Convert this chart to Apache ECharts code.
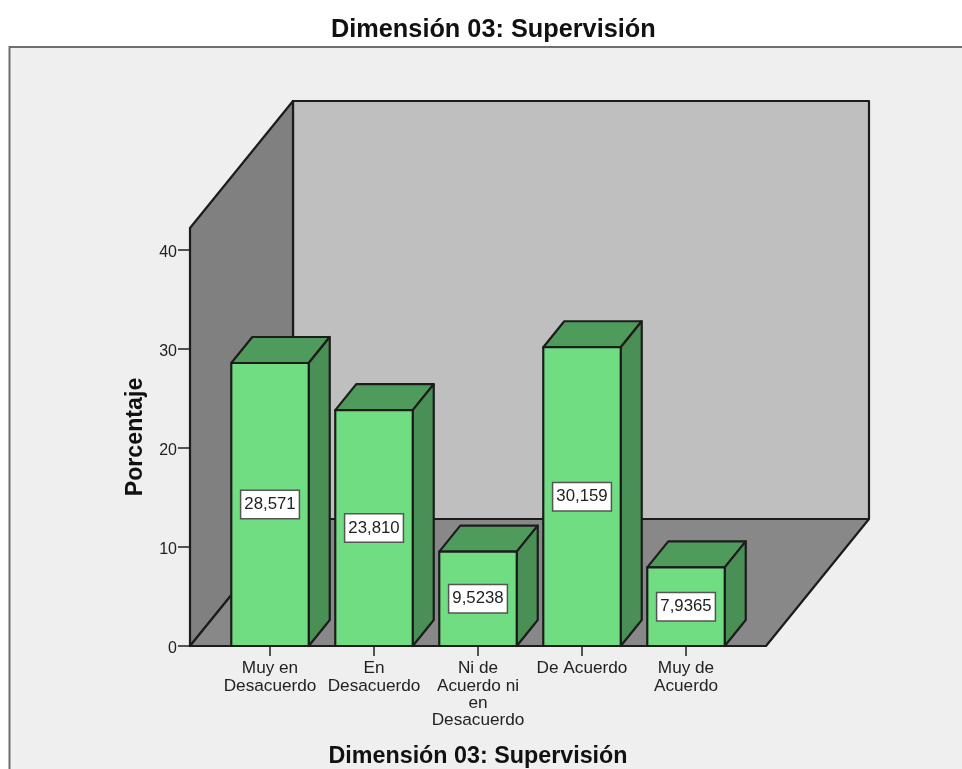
<!DOCTYPE html>
<html>
<head>
<meta charset="utf-8">
<title>Dimensión 03: Supervisión</title>
<style>
html,body{margin:0;padding:0;background:#fff;}
#main{width:962px;height:769px;}
</style>
<script src="https://cdn.jsdelivr.net/npm/echarts@6/dist/echarts.min.js"></script>
</head>
<body>
<div id="main"></div>
<script>
var titleText = 'Dimensión 03: Supervisión';
var yName = 'Porcentaje';
var categories = ['Muy en\nDesacuerdo', 'En\nDesacuerdo', 'Ni de\nAcuerdo ni\nen\nDesacuerdo', 'De Acuerdo', 'Muy de\nAcuerdo'];
var values = [28.571, 23.810, 9.5238, 30.159, 7.9365];
var yTicks = [0, 10, 20, 30, 40];
var yMax = 42.2;

var fontName = '"Liberation Sans", Arial, sans-serif';
var edge = '#1c1c1c';
var sidePad = 28;     // floor sticks out past the first and last band
var wallDx = 103, wallDy = -127;
var barDx = 21, barDy = -26;

function poly(points, fill) {
	return {
		type: 'polygon',
		shape: { points: points },
		style: { fill: fill, stroke: edge, lineWidth: 2.2, lineJoin: 'round' }
	};
}

// back wall, side wall and floor
function renderWalls(params, api) {
	var cs = params.coordSys;
	var x0 = cs.x - sidePad, x1 = cs.x + cs.width + sidePad;
	var y0 = api.coord([0, 0])[1], yTop = api.coord([0, yMax])[1];
	return {
		type: 'group',
		children: [
			poly([[x0 + wallDx, yTop + wallDy], [x1 + wallDx, yTop + wallDy], [x1 + wallDx, y0 + wallDy], [x0 + wallDx, y0 + wallDy]], '#bfbfbf'),
			poly([[x0, yTop], [x0 + wallDx, yTop + wallDy], [x0 + wallDx, y0 + wallDy], [x0, y0]], '#808080'),
			poly([[x0, y0], [x1, y0], [x1 + wallDx, y0 + wallDy], [x0 + wallDx, y0 + wallDy]], '#888888')
		]
	};
}

function renderBar(params, api) {
	var top = api.coord([api.value(0), api.value(1)]);
	var base = api.coord([api.value(0), 0]);
	var w = api.size([1, 0])[0] * 0.745;
	var l = top[0] - w / 2, r = top[0] + w / 2;
	var mid = (top[1] + base[1]) / 2;
	return {
		type: 'group',
		children: [
			poly([[l, top[1]], [l + barDx, top[1] + barDy], [r + barDx, top[1] + barDy], [r, top[1]]], '#4f9b5c'),
			poly([[r, top[1]], [r + barDx, top[1] + barDy], [r + barDx, base[1] + barDy], [r, base[1]]], '#4a9056'),
			poly([[l, top[1]], [r, top[1]], [r, base[1]], [l, base[1]]], '#70dd83'),
			{
				type: 'text',
				x: top[0],
				y: mid,
				style: {
					text: api.value(1).toPrecision(5).replace('.', ','),
					font: '16.8px ' + fontName,
					fill: '#222',
					align: 'center',
					verticalAlign: 'middle',
					backgroundColor: '#fff',
					borderColor: '#555',
					borderWidth: 1.5,
					padding: [5, 3, 5, 3]
				}
			}
		]
	};
}

var myChart = echarts.init(document.getElementById('main'), null, { renderer: 'canvas' });
var option = {
	animation: false,
	backgroundColor: '#fff',
	title: {
		text: titleText,
		left: 326,
		top: 13,
		textStyle: { fontFamily: fontName, fontSize: 25.3, fontWeight: 'bold', color: '#111' }
	},
	graphic: [{
		type: 'rect',
		z: -10,
		silent: true,
		shape: { x: 9.5, y: 47, width: 1000, height: 800 },
		style: { fill: '#efefef', stroke: '#6e6e6e', lineWidth: 2 }
	}],
	grid: { left: 218, top: 228, width: 520, height: 418, outerBoundsMode: 'none' },
	xAxis: {
		type: 'category',
		data: categories,
		name: titleText,
		nameLocation: 'middle',
		nameGap: 99,
		nameTextStyle: { fontFamily: fontName, fontSize: 23.3, fontWeight: 'bold', color: '#111' },
		axisLine: { show: false },
		axisTick: { show: true, alignWithLabel: true, length: 10, lineStyle: { color: '#222', width: 1.5 } },
		axisLabel: { interval: 0, margin: 14, fontFamily: fontName, fontSize: 17.2, lineHeight: 17.3, color: '#222' },
		splitLine: { show: false }
	},
	yAxis: {
		type: 'value',
		min: 0,
		max: yMax,
		offset: sidePad,
		name: yName,
		nameLocation: 'middle',
		nameGap: 43,
		nameRotate: 90,
		nameTextStyle: { fontFamily: fontName, fontSize: 23.2, fontWeight: 'bold', color: '#111' },
		axisLine: { show: true, lineStyle: { color: edge, width: 2 } },
		axisTick: { show: true, length: 12, customValues: yTicks, lineStyle: { color: '#222', width: 1.5 } },
		axisLabel: {
			margin: 13,
			customValues: yTicks,
			formatter: '{v|{value}}',
			rich: { v: { padding: [5, 0, 0, 0], fontFamily: fontName, fontSize: 16, color: '#222' } }
		},
		splitLine: { show: false }
	},
	series: [
		{ type: 'custom', z: 1, silent: true, clip: false, renderItem: renderWalls, data: [[0, yMax]] },
		{
			type: 'custom',
			z: 2,
			clip: false,
			renderItem: renderBar,
			encode: { x: 0, y: 1 },
			data: values.map(function (v, i) { return [i, v]; })
		}
	]
};
myChart.setOption(option);
window.onresize = myChart.resize;
</script>
</body>
</html>
